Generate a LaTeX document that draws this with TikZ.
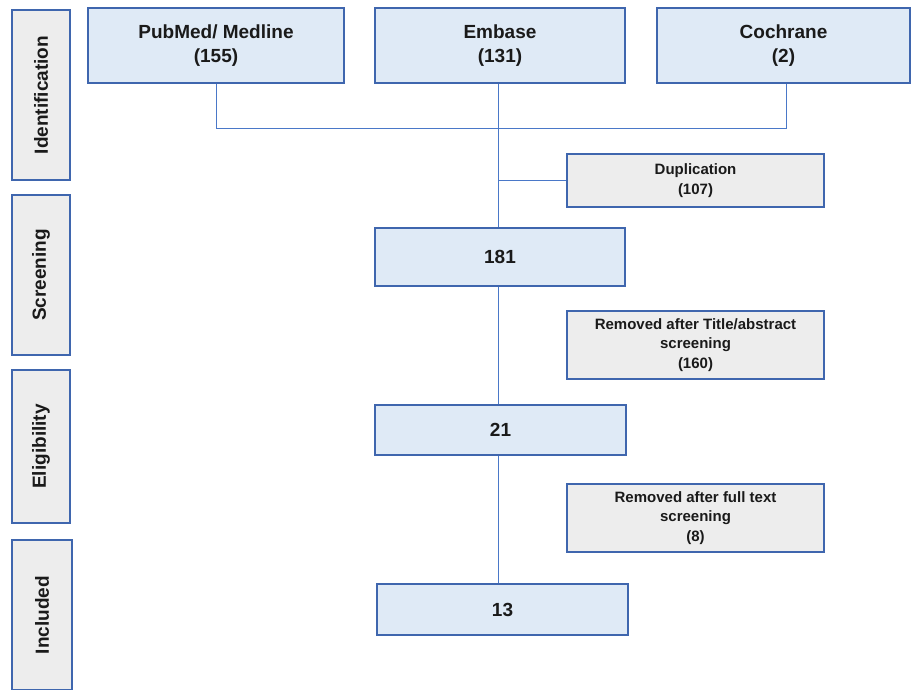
\documentclass[tikz,border=0pt]{standalone}
\usepackage{fontspec}
\setmainfont{Liberation Sans}
\definecolor{bordblue}{HTML}{3F66AE}
\definecolor{lineblue}{HTML}{4A78C8}
\definecolor{fillblue}{HTML}{DFEAF6}
\definecolor{fillgray}{HTML}{EDEDED}
\definecolor{txt}{HTML}{1A1A1A}
\begin{document}
\begin{tikzpicture}[x=1pt,y=-1pt,
  bluebox/.style={draw=bordblue, line width=1.4pt, fill=fillblue, inner sep=0pt, align=center, text=txt, font=\bfseries\fontsize{19}{24}\selectfont},
  graybox/.style={draw=bordblue, line width=1.4pt, fill=fillgray, inner sep=0pt, align=center, text=txt, font=\bfseries\fontsize{15}{19.5}\selectfont},
  phasebox/.style={draw=bordblue, line width=1.4pt, fill=fillgray, inner sep=0pt, text=txt, font=\bfseries\fontsize{19}{22}\selectfont},
  conn/.style={draw=lineblue, line width=1pt}]
\clip (0,0) rectangle (912,690);
\fill[white] (0,0) rectangle (912,690);
% phase boxes
\node[phasebox, minimum width=58pt, minimum height=170pt] (pid) at (41,95) {\rotatebox{90}{Identification}};
\node[phasebox, minimum width=58pt, minimum height=160pt] (psc) at (41,275) {\rotatebox{90}{Screening}};
\node[phasebox, minimum width=58pt, minimum height=153pt] (pel) at (41,446.5) {\rotatebox{90}{Eligibility}};
\node[phasebox, minimum width=60pt, minimum height=150pt] (pin) at (42,615) {\rotatebox{90}{Included}};
% sources
\node[bluebox, minimum width=256pt, minimum height=75pt] (pub) at (216,45.5) {PubMed/ Medline\\(155)};
\node[bluebox, minimum width=250pt, minimum height=75pt] (emb) at (500,45.5) {Embase\\(131)};
\node[bluebox, minimum width=253pt, minimum height=75pt] (coc) at (783.5,45.5) {Cochrane\\(2)};
% flow
\node[graybox, minimum width=257pt, minimum height=53pt] (dup) at (695.5,180.5) {Duplication\\(107)};
\node[bluebox, minimum width=250pt, minimum height=58pt] (s181) at (500,257) {181};
\node[graybox, minimum width=257pt, minimum height=68pt] (rta) at (695.5,345) {Removed after Title/abstract\\screening\\(160)};
\node[bluebox, minimum width=251pt, minimum height=50pt] (s21) at (500.5,430) {21};
\node[graybox, minimum width=257pt, minimum height=68pt] (rft) at (695.5,518) {Removed after full text\\screening\\(8)};
\node[bluebox, minimum width=251pt, minimum height=51pt] (s13) at (502.5,609.5) {13};
% connectors
\coordinate (hl) at (216,128);
\coordinate (hr) at (786,128);
\coordinate (dupj) at (498,180.5);
\draw[conn] (pub.south) -- (hl) -- (hr) -- (hr |- coc.south);
\draw[conn] (dupj |- emb.south) -- (dupj |- s181.north);
\draw[conn] (dupj) -- (dup.west);
\draw[conn] (dupj |- s181.south) -- (dupj |- s21.north);
\draw[conn] (dupj |- s21.south) -- (dupj |- s13.north);
\end{tikzpicture}
\end{document}
